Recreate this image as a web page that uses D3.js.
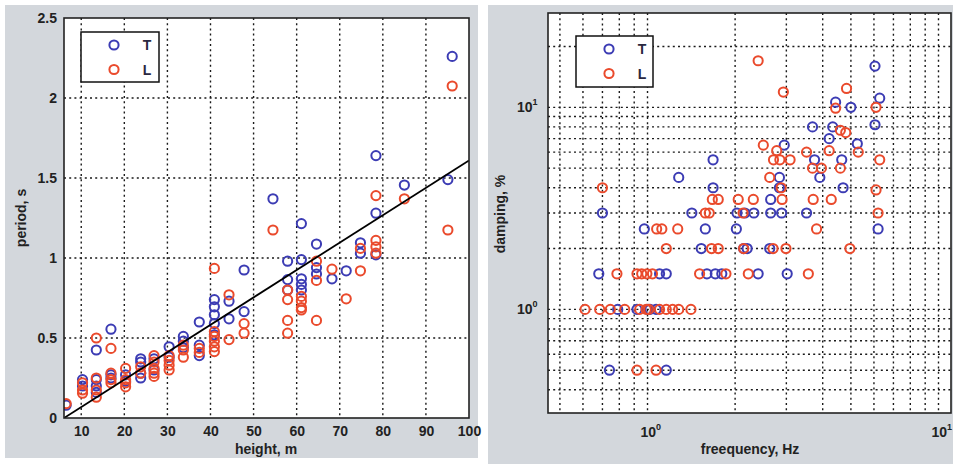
<!DOCTYPE html>
<html><head><meta charset="utf-8">
<script src="https://cdn.jsdelivr.net/npm/d3@7"></script>
<style>html,body{margin:0;padding:0;background:#fff;} text{font-family:"Liberation Sans",Arial,sans-serif;}</style>
</head><body><svg id="c" width="953" height="464"></svg>
<script>
// ---------- Left chart data: height (m) vs period (s) ----------
const periodT = [
 [6.5,0.08],[10.3,0.24],[10.3,0.2],[13.5,0.425],[13.5,0.24],[13.5,0.2],[13.5,0.16],
 [16.9,0.555],[16.9,0.27],[16.9,0.25],[20.3,0.27],[20.3,0.23],
 [23.8,0.37],[23.8,0.35],[23.8,0.28],[23.8,0.25],[26.9,0.37],[26.9,0.3],
 [30.4,0.445],[30.4,0.38],[33.7,0.51],[33.7,0.48],[33.7,0.44],
 [37.4,0.6],[37.4,0.455],[37.4,0.39],
 [40.9,0.74],[40.9,0.695],[40.9,0.645],[40.9,0.59],[40.9,0.52],
 [44.3,0.73],[44.3,0.62],[47.8,0.925],[47.8,0.665],[54.5,1.37],
 [57.9,0.98],[57.9,0.865],[57.9,0.8],
 [61.1,1.215],[61.1,0.99],[61.1,0.87],[61.1,0.835],[61.1,0.8],
 [64.6,1.087],[64.6,0.94],[64.6,0.9],[68.2,0.87],[71.5,0.92],
 [74.8,1.095],[74.8,1.03],[78.4,1.64],[78.4,1.28],[78.4,1.02],
 [85,1.456],[95.1,1.49],[96.1,2.26]
];
const periodL = [
 [6.5,0.09],[10.3,0.22],[10.3,0.175],[10.3,0.155],
 [13.5,0.5],[13.5,0.25],[13.5,0.175],[13.5,0.13],
 [16.9,0.435],[16.9,0.28],[16.9,0.24],[16.9,0.22],
 [20.3,0.31],[20.3,0.24],[20.3,0.22],[20.3,0.195],[23.8,0.32],[23.8,0.28],
 [26.9,0.39],[26.9,0.35],[26.9,0.31],[26.9,0.28],[26.9,0.26],
 [30.4,0.39],[30.4,0.36],[30.4,0.33],[30.4,0.3],
 [33.7,0.455],[33.7,0.425],[33.7,0.38],[37.4,0.435],[37.4,0.41],
 [40.9,0.935],[40.9,0.54],[40.9,0.51],[40.9,0.48],[40.9,0.445],[40.9,0.415],
 [44.3,0.77],[44.3,0.49],[47.8,0.59],[47.8,0.53],[54.5,1.175],
 [57.9,0.8],[57.9,0.74],[57.9,0.61],[57.9,0.53],
 [61.1,0.76],[61.1,0.73],[61.1,0.69],[61.1,0.675],
 [64.6,0.98],[64.6,0.86],[64.6,0.61],[68.2,0.93],[71.5,0.745],
 [74.8,1.06],[74.8,0.92],[78.4,1.39],[78.4,1.11],[78.4,1.07],[78.4,1.03],
 [85,1.37],[95.1,1.175],[96.1,2.075]
];
const fitLine = [[6,0],[100,1.61]];
const heightTicks = [10,20,30,40,50,60,70,80,90,100];
const periodTicks = [0,0.5,1,1.5,2,2.5];

// ---------- Right chart data: frequency (Hz) vs damping (%) ----------
const dampT = [
 [0.74,0.5],[1.16,0.5],
 [0.79,1],[0.92,1],[1.0,1],[1.02,1],[1.07,1],
 [0.68,1.5],[1.10,1.5],[1.16,1.5],[1.6,1.5],[1.71,1.5],[1.8,1.5],[2.4,1.5],[3.02,1.5],
 [1.53,2],[2.14,2],[2.2,2],[2.63,2],
 [0.975,2.5],[1.58,2.5],[2.02,2.5],[6.2,2.5],
 [0.70,3],[1.42,3],[2.03,3],[2.16,3],[2.32,3],[2.65,3],[2.89,3],[3.52,3],
 [2.65,3.5],[1.68,4],[2.84,4],[4.7,4],[1.28,4.5],[2.84,4.5],[3.91,4.5],
 [1.68,5.5],[3.75,5.5],[4.65,5.5],[2.95,6.5],[5.26,6.6],[4.21,7.0],
 [3.69,8],[4.33,8],[6.05,8.2],[4.43,10.6],[5.0,10],[6.28,11.1],[6.05,16]
];
const dampL = [
 [0.92,0.5],[1.07,0.5],
 [0.61,1],[0.685,1],[0.745,1],[0.835,1],[0.94,1],[0.99,1],[1.01,1],[1.1,1],[1.16,1],[1.22,1],[1.28,1],[1.41,1],
 [0.785,1.5],[0.92,1.5],[0.955,1.5],[0.995,1.5],[1.04,1.5],[1.51,1.5],[1.86,1.5],[2.22,1.5],[3.57,1.5],
 [1.16,2],[1.66,2],[1.75,2],[2.14,2],[2.7,2],[2.99,2],[4.96,2],
 [1.075,2.5],[1.12,2.5],[1.27,2.5],[3.81,2.5],
 [1.58,3],[1.63,3],[2.13,3],[6.2,3],
 [1.67,3.5],[1.75,3.5],[2.05,3.5],[2.31,3.5],[2.9,3.5],[3.71,3.5],[4.28,3.5],
 [0.70,4],[2.88,4],[6.1,3.9],[2.63,4.5],
 [3.69,5.0],[3.96,5.0],[4.6,5.0],
 [2.71,5.5],[2.85,5.5],[3.09,5.5],[6.28,5.5],
 [2.78,6.1],[3.52,6.0],[4.21,6.1],[5.3,6.0],[2.5,6.5],
 [4.8,7.5],[4.6,7.7],[4.43,9.9],[6.1,10],[2.93,11.9],[4.83,12.4],[2.40,17]
];
const freqGrid = [0.5,0.6,0.7,0.8,0.9,1,2,3,4,5,6,7,8,9,10];
const dampGrid = [0.4,0.5,0.6,0.7,0.8,0.9,1,2,3,4,5,6,7,8,9,10,20];
const decadeTicks = [1,10];
const seriesNames = ["T","L"];

const BLUE = "#3c3cb4", RED = "#ea4a2c", GREY = "#d3d7dc";
const svg = d3.select("#c");
svg.append("rect").attr("width",953).attr("height",464).attr("fill","#fff");
svg.append("rect").attr("x",5).attr("y",5).attr("width",473).attr("height",453).attr("fill",GREY);
svg.append("rect").attr("x",488).attr("y",5).attr("width",465).attr("height",459).attr("fill",GREY);

function grid(g, xs, ys, xVals, yVals, box){
  g.selectAll(".gx").data(xVals).join("line").attr("class","gx")
   .attr("x1",d=>xs(d)).attr("x2",d=>xs(d)).attr("y1",box.t).attr("y2",box.b);
  g.selectAll(".gy").data(yVals).join("line").attr("class","gy")
   .attr("y1",d=>ys(d)).attr("y2",d=>ys(d)).attr("x1",box.l).attr("x2",box.r);
  g.selectAll("line").attr("stroke","#1a1a1a").attr("stroke-width",1.4).attr("stroke-dasharray","2,3.2");
}
function marks(g, xs, ys, data, color){
  g.append("g").selectAll("circle").data(data).join("circle")
   .attr("cx",d=>xs(d[0])).attr("cy",d=>ys(d[1])).attr("r",4.6)
   .attr("fill","none").attr("stroke",color).attr("stroke-width",2);
}
function legend(x0,y0,w,h){
  const g = svg.append("g");
  g.append("rect").attr("x",x0).attr("y",y0).attr("width",w).attr("height",h)
   .attr("fill","#fff").attr("stroke","#111").attr("stroke-width",1.5);
  [BLUE,RED].forEach((c,i)=>{
    const cy = y0+13+i*24.5;
    g.append("circle").attr("cx",x0+33).attr("cy",cy).attr("r",4.6).attr("fill","none").attr("stroke",c).attr("stroke-width",2);
    g.append("text").attr("x",x0+66).attr("y",cy+5).attr("text-anchor","middle")
     .attr("font-size",14).attr("font-weight","bold").attr("fill","#2a2840").text(seriesNames[i]);
  });
}

// ---------- LEFT ----------
const L = {l:64,r:469,t:18,b:418};
const x1 = d3.scaleLinear().domain([6,100]).range([L.l,L.r]);
const y1 = d3.scaleLinear().domain([0,2.5]).range([L.b,L.t]);
svg.append("rect").attr("x",L.l).attr("y",L.t).attr("width",L.r-L.l).attr("height",L.b-L.t).attr("fill","#fff");
svg.append("clipPath").attr("id","cl1").append("rect").attr("x",L.l).attr("y",L.t).attr("width",L.r-L.l).attr("height",L.b-L.t);
grid(svg.append("g"), x1, y1, heightTicks.filter(d=>d<100), periodTicks.filter(d=>d>0&&d<2.5), L);
const p1 = svg.append("g").attr("clip-path","url(#cl1)");
marks(p1, x1, y1, periodT, BLUE);
marks(p1, x1, y1, periodL, RED);
p1.append("path").datum(fitLine).attr("d",d3.line().x(d=>x1(d[0])).y(d=>y1(d[1])))
  .attr("stroke","#000").attr("stroke-width",1.8).attr("fill","none");
svg.append("rect").attr("x",L.l).attr("y",L.t).attr("width",L.r-L.l).attr("height",L.b-L.t)
  .attr("fill","none").attr("stroke","#222").attr("stroke-width",1.6);
const ax1 = svg.append("g").attr("transform",`translate(0,${L.b})`)
  .call(d3.axisBottom(x1).tickValues(heightTicks).tickSize(0).tickPadding(8).tickFormat(d3.format("d")));
const ay1 = svg.append("g").attr("transform",`translate(${L.l},0)`)
  .call(d3.axisLeft(y1).tickValues(periodTicks).tickSize(0).tickPadding(7).tickFormat(d=>String(d)));
[ax1,ay1].forEach(a=>{a.select(".domain").remove();
  a.selectAll("text").attr("font-size",14).attr("font-weight","bold").attr("fill","#222")
   .style("font-family",'"Liberation Sans",Arial,sans-serif');});
svg.append("text").attr("x",266).attr("y",454).attr("text-anchor","middle").attr("font-size",14)
  .attr("font-weight","bold").attr("fill","#222").text("height, m");
svg.append("text").attr("transform","translate(26,218) rotate(-90)").attr("text-anchor","middle")
  .attr("font-size",14).attr("font-weight","bold").attr("fill","#222").text("period, s");
legend(81,32,78,50);

// ---------- RIGHT ----------
const R = {l:548,r:951,t:13,b:413};
const x2 = d3.scaleLog().domain([0.455,11.04]).range([R.l,R.r]);
const y2 = d3.scaleLog().domain([0.307,29.3]).range([R.b,R.t]);
svg.append("rect").attr("x",R.l).attr("y",R.t).attr("width",R.r-R.l).attr("height",R.b-R.t).attr("fill","#fff");
svg.append("clipPath").attr("id","cl2").append("rect").attr("x",R.l).attr("y",R.t).attr("width",R.r-R.l).attr("height",R.b-R.t);
grid(svg.append("g"), x2, y2, freqGrid, dampGrid, R);
const p2 = svg.append("g").attr("clip-path","url(#cl2)");
marks(p2, x2, y2, dampT, BLUE);
marks(p2, x2, y2, dampL, RED);
svg.append("rect").attr("x",R.l).attr("y",R.t).attr("width",R.r-R.l).attr("height",R.b-R.t)
  .attr("fill","none").attr("stroke","#222").attr("stroke-width",1.6);
function pow(sel, exp){
  sel.append("tspan").text("10");
  sel.append("tspan").attr("font-size",9).attr("dy",-7).text(exp);
}
decadeTicks.forEach(v=>{
  const e = String(Math.round(Math.log10(v)));
  pow(svg.append("text").attr("x",x2(v)-7).attr("y",437).attr("font-size",14).attr("font-weight","bold").attr("fill","#222"), e);
  pow(svg.append("text").attr("x",517).attr("y",y2(v)+5).attr("font-size",14).attr("font-weight","bold").attr("fill","#222"), e);
});
svg.append("text").attr("x",750).attr("y",454).attr("text-anchor","middle").attr("font-size",14)
  .attr("font-weight","bold").attr("fill","#222").text("freequency, Hz");
svg.append("text").attr("transform","translate(505,214) rotate(-90)").attr("text-anchor","middle")
  .attr("font-size",14).attr("font-weight","bold").attr("fill","#222").text("damping, %");
legend(576,36,77,51);
</script></body></html>
